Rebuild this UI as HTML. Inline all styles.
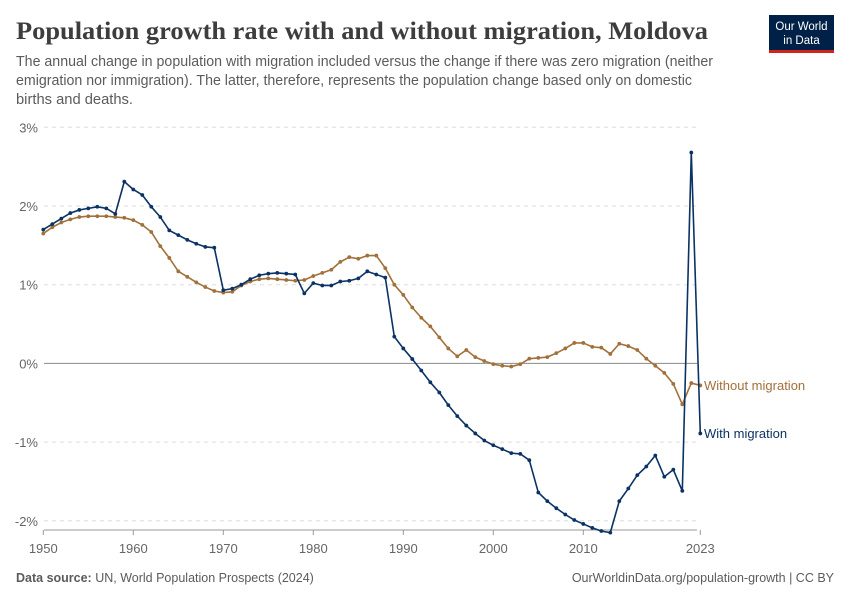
<!DOCTYPE html>
<html><head><meta charset="utf-8"><style>
body{margin:0;background:#fff}
svg{display:block;font-family:"Liberation Sans",sans-serif}
</style></head><body>
<svg id="chart" width="850" height="600" viewBox="0 0 850 600">
<text x="16" y="39" font-family="Liberation Serif,serif" font-weight="bold" font-size="25" fill="#3d3d3d" textLength="692" lengthAdjust="spacingAndGlyphs">Population growth rate with and without migration, Moldova</text>
<g font-size="14.5" fill="#5b5b5b">
<text x="16" y="66" textLength="697" lengthAdjust="spacingAndGlyphs">The annual change in population with migration included versus the change if there was zero migration (neither</text>
<text x="16" y="85" textLength="676" lengthAdjust="spacingAndGlyphs">emigration nor immigration). The latter, therefore, represents the population change based only on domestic</text>
<text x="16" y="104" textLength="117" lengthAdjust="spacingAndGlyphs">births and deaths.</text>
</g>
<g>
<rect x="769" y="15" width="65" height="35" fill="#002147"/>
<rect x="769" y="50" width="65" height="3" fill="#ce261e"/>
<text x="801.5" y="30" font-size="11.5" fill="#fff" text-anchor="middle">Our World</text>
<text x="801.5" y="44" font-size="11.5" fill="#fff" text-anchor="middle">in Data</text>
</g>
<g id="grid"></g><g id="plot"></g>
<text x="16" y="582" font-size="12.5" fill="#5b5b5b"><tspan font-weight="bold">Data source:</tspan> UN, World Population Prospects (2024)</text>
<text x="834" y="582" font-size="12.5" fill="#5b5b5b" text-anchor="end">OurWorldinData.org/population-growth | CC BY</text>
</svg>
<script>
const years=[];for(let y=1950;y<=2023;y++)years.push(y);
const withMigration=[1.70,1.77,1.84,1.91,1.95,1.97,1.99,1.97,1.90,2.31,2.21,2.14,1.99,1.86,1.69,1.63,1.57,1.52,1.48,1.47,
0.93,0.95,1.00,1.07,1.12,1.14,1.15,1.14,1.13,0.89,1.02,0.99,0.99,1.04,1.05,1.08,1.17,1.13,1.09,0.34,
0.19,0.055,-0.09,-0.24,-0.37,-0.53,-0.67,-0.79,-0.89,-0.98,-1.04,-1.09,-1.14,-1.15,-1.23,-1.64,-1.75,-1.84,-1.92,-1.99,
-2.04,-2.09,-2.13,-2.15,-1.75,-1.59,-1.42,-1.31,-1.17,-1.44,-1.35,-1.62,2.68,-0.89];
const withoutMigration=[1.65,1.73,1.79,1.83,1.86,1.87,1.87,1.87,1.86,1.85,1.82,1.76,1.67,1.49,1.34,1.17,1.10,1.03,0.97,0.92,
0.90,0.91,0.99,1.04,1.07,1.08,1.07,1.06,1.05,1.06,1.11,1.15,1.19,1.29,1.35,1.33,1.37,1.37,1.21,1.00,
0.87,0.71,0.58,0.47,0.33,0.19,0.09,0.17,0.08,0.03,-0.01,-0.03,-0.04,-0.01,0.06,0.07,0.08,0.13,0.19,0.26,
0.26,0.21,0.20,0.12,0.25,0.22,0.17,0.06,-0.03,-0.12,-0.26,-0.52,-0.25,-0.28];
const yTicks=[-2,-1,0,1,2,3];
const xTicks=[1950,1960,1970,1980,1990,2000,2010,2023];
const NS="http://www.w3.org/2000/svg";
const X=yr=>43.3+9*(yr-1950);
const Y=v=>363.4-78.7*v;
function mk(tag,attrs,parent){const e=document.createElementNS(NS,tag);for(const k in attrs)e.setAttribute(k,attrs[k]);parent.appendChild(e);return e;}
const grid=document.getElementById('grid'),plot=document.getElementById('plot');
yTicks.forEach(t=>{
  const l=mk('line',{x1:44,x2:697,y1:Y(t),y2:Y(t),stroke:t===0?'#8a8a8a':'#dddddd','stroke-dasharray':t===0?'none':'4,4'},grid);
  
  
  const tx=mk('text',{x:38,y:Y(t)+5,'font-size':13,fill:'#666','text-anchor':'end'},grid);
  tx.textContent=t+'%';
  
  
});
const ax=mk('line',{x1:44,x2:697,y1:530,y2:530,stroke:'#999'},grid);


xTicks.forEach(t=>{
  mk('line',{x1:X(t),x2:X(t),y1:530,y2:535,stroke:'#999'},grid);
  const tx=mk('text',{x:X(t),y:553,'font-size':13,fill:'#666','text-anchor':'middle'},grid);
  tx.textContent=t;
  
  
});
function series(vals,color,name,label,ly){
  const g=mk('g',{},plot);
  
  
  const pl=mk('polyline',{points:vals.map((v,i)=>X(years[i])+','+Y(v)).join(' '),fill:'none',stroke:color,'stroke-width':1.6,'stroke-linejoin':'round'},g);
  
  
  vals.forEach((v,i)=>{
    const c=mk('circle',{cx:X(years[i]),cy:Y(v),r:1.9,fill:color},g);
    
    
  });
  const t=mk('text',{x:704,y:ly,'font-size':13,fill:color},plot);
  t.textContent=label;
  
  
}
series(withoutMigration,'#a2703a','without-migration','Without migration',390);
series(withMigration,'#0b3264','with-migration','With migration',438);
</script>
</body></html>
